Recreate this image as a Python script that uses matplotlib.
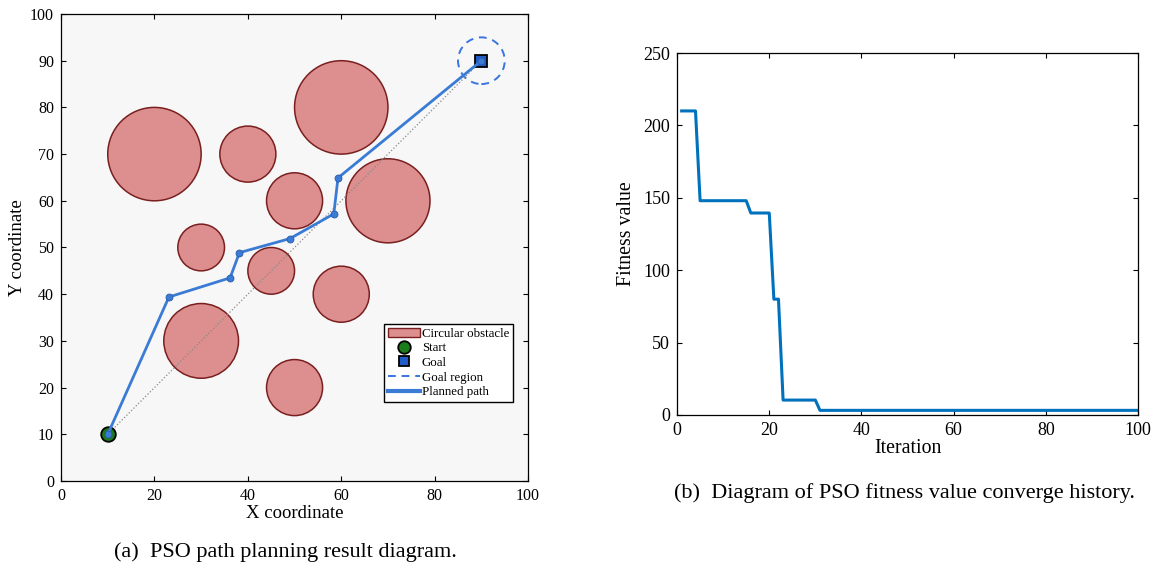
import numpy as np
import matplotlib
matplotlib.use("Agg")
import matplotlib.pyplot as plt
from matplotlib.patches import Circle
from matplotlib.lines import Line2D
from matplotlib.patches import Patch

plt.rcParams["font.family"] = ["Liberation Serif", "DejaVu Serif"]

# ------------------------------------------------------------------ data (a)
obs_x = [20, 40, 60, 50, 70, 30, 45, 60, 30, 50]
obs_y = [70, 70, 80, 60, 60, 50, 45, 40, 30, 20]
obs_r = [10, 6, 10, 6, 9, 5, 5, 6, 8, 6]

start = (10, 10)
goal = (90, 90)
goal_radius = 5

path_x = [10, 23.1, 36.2, 38.2, 49.0, 58.4, 59.3, 90]
path_y = [10, 39.4, 43.5, 48.9, 51.9, 57.2, 64.9, 90]

# ------------------------------------------------------------------ data (b)
fit_values = [210, 148, 139.5, 80, 10.3, 3.2]
fit_runs = [4, 11, 5, 2, 8, 70]   # Iterationen je Plateau

# ------------------------------------------------------------------ Figur
fig = plt.figure(figsize=(11.54, 5.67), dpi=100)

ax1 = fig.add_axes([0.0529, 0.1517, 0.4047, 0.8236])
ax1.set_facecolor("#f7f7f7")
for x, y, r in zip(obs_x, obs_y, obs_r):
    ax1.add_patch(Circle((x, y), r, facecolor="#dd8f8f", edgecolor="#7a1f1f",
                         lw=1.1, zorder=2))
ax1.add_patch(Circle(goal, goal_radius, fill=False, edgecolor="#3a74e0",
                     ls=(0, (4, 3)), lw=1.4, zorder=3))
ax1.plot([start[0], goal[0]], [start[1], goal[1]], ls=":", color="#888888",
         lw=0.9, zorder=3)
ax1.plot(start[0], start[1], "o", ms=10.5, mfc="#1c7c1c", mec="black",
         mew=1.3, zorder=4)
ax1.plot(goal[0], goal[1], "s", ms=8, mfc="#1f5cc8", mec="black",
         mew=1.3, zorder=4)
ax1.plot(path_x, path_y, "-o", color="#3a7bd5", lw=2.0, ms=5,
         mfc="#3a7bd5", mec="#2a5aa8", mew=0.6, zorder=5)

ax1.set_xlim(0, 100); ax1.set_ylim(0, 100)
ax1.set_xticks(range(0, 101, 20)); ax1.set_yticks(range(0, 101, 10))
ax1.tick_params(direction="in", top=True, right=True, labelsize=11.5,
                length=3.8, width=0.8, pad=5)
for s in ax1.spines.values():
    s.set_linewidth(0.9)
ax1.set_xlabel("X coordinate", fontsize=13.5, labelpad=1)
ax1.set_ylabel("Y coordinate", fontsize=13.5, labelpad=3)

handles = [
    Patch(facecolor="#dd8f8f", edgecolor="#7a1f1f", label="Circular obstacle"),
    Line2D([], [], ls="none", marker="o", ms=9, mfc="#1c7c1c", mec="black",
           mew=1.3, label="Start"),
    Line2D([], [], ls="none", marker="s", ms=7, mfc="#1f5cc8", mec="black",
           mew=1.3, label="Goal"),
    Line2D([], [], ls=(0, (4, 3)), color="#3a74e0", lw=1.4, label="Goal region"),
    Line2D([], [], color="#3a7bd5", lw=3, label="Planned path"),
]
leg = ax1.legend(handles=handles, loc="lower right",
                 bbox_to_anchor=(0.968, 0.169), fontsize=9.3, frameon=True,
                 fancybox=False, edgecolor="black", framealpha=1,
                 handlelength=2.5, handletextpad=0.15, borderpad=0.3,
                 labelspacing=0.2, borderaxespad=0)
leg.get_frame().set_linewidth(1.0)

# ------------------------------------------------------------------ (b)
fitness = np.repeat(fit_values, fit_runs)
iters = np.arange(1, len(fitness) + 1)

ax2 = fig.add_axes([0.5867, 0.2681, 0.3995, 0.6384])
ax2.plot(iters, fitness, color="#0072BD", lw=2.2)
ax2.set_xlim(0, 100); ax2.set_ylim(0, 250)
ax2.set_xticks(range(0, 101, 20)); ax2.set_yticks(range(0, 251, 50))
ax2.tick_params(direction="in", top=True, right=True, labelsize=13,
                length=3.8, width=0.8, pad=5)
for s in ax2.spines.values():
    s.set_linewidth(0.9)
ax2.set_xlabel("Iteration", fontsize=14.3, labelpad=0)
ax2.set_ylabel("Fitness value", fontsize=14.3, labelpad=5)

# Bildunterschriften
fig.text(0.247, 0.027, "(a)  PSO path planning result diagram.",
         ha="center", va="center", fontsize=16)
fig.text(0.784, 0.130, "(b)  Diagram of PSO fitness value converge history.",
         ha="center", va="center", fontsize=16)

fig.savefig("out.png", dpi=100)
